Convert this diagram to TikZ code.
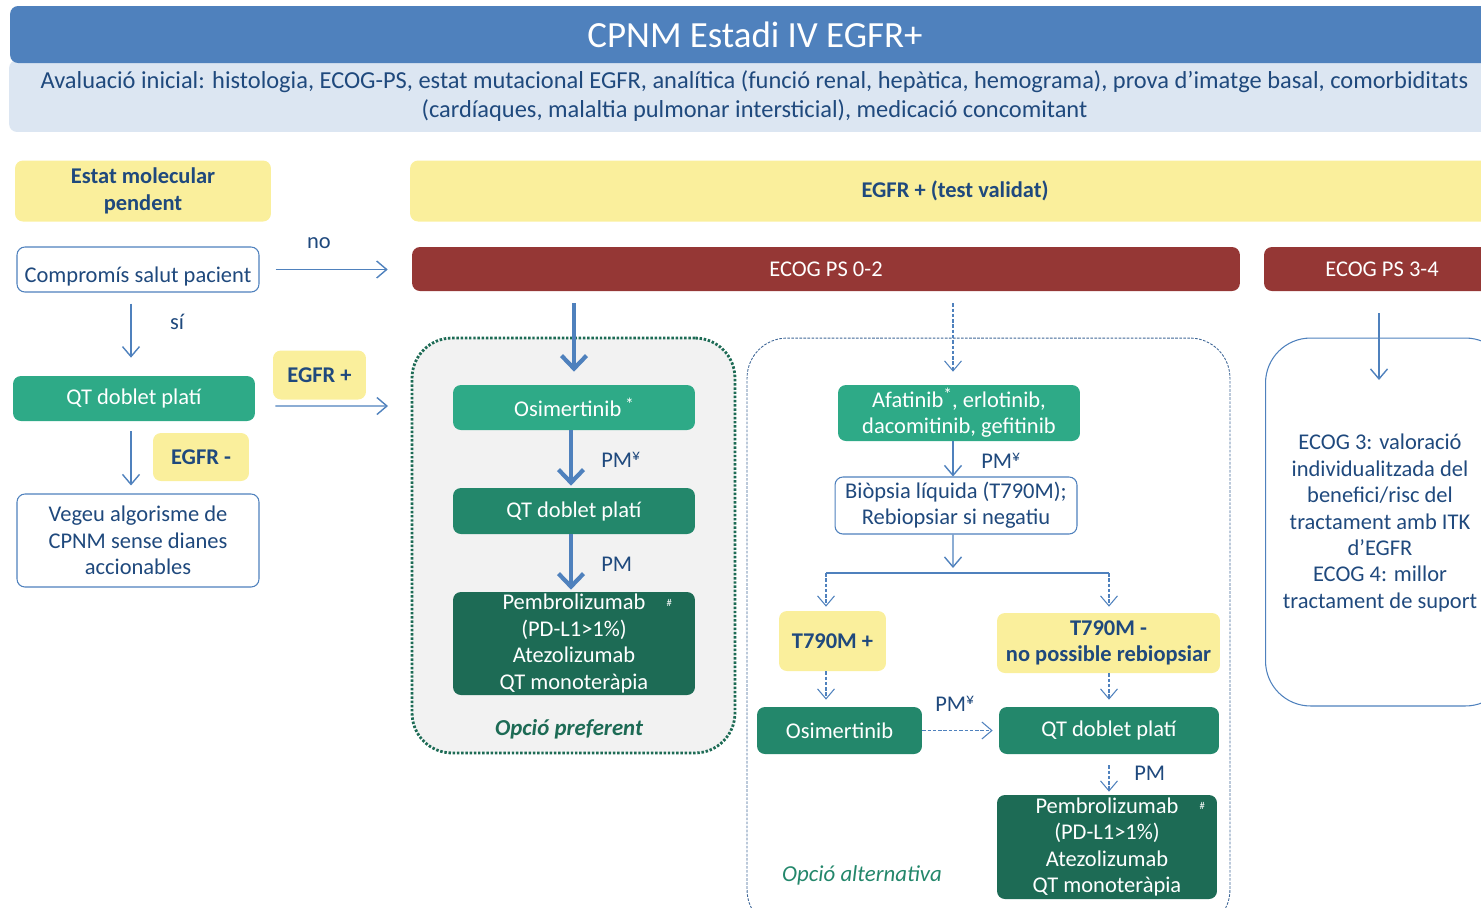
\documentclass[tikz,border=0pt]{standalone}
\usepackage{fontspec}
\setmainfont{Carlito}
\usepackage{xcolor}
\usetikzlibrary{arrows.meta}
\definecolor{titleblue}{HTML}{4F81BD}
\definecolor{headblue}{HTML}{DCE6F2}
\definecolor{textnavy}{HTML}{1F497D}
\definecolor{boxyellow}{HTML}{FAEF9C}
\definecolor{ecogred}{HTML}{953735}
\definecolor{greenA}{HTML}{2EAA87}
\definecolor{greenB}{HTML}{23876B}
\definecolor{greenC}{HTML}{1D6B55}
\definecolor{framegray}{HTML}{F2F2F2}
\newcommand{\supstar}{\raisebox{0.6ex}{\fontsize{10}{10}\selectfont*}}
\newcommand{\supyen}{\raisebox{0.6ex}{\fontsize{9}{9}\selectfont¥}}

\begin{document}
\begin{tikzpicture}[x=0.02cm,y=-0.02cm,font=\fontsize{12.8}{15}\selectfont,
  box/.style={rounded corners=4.5pt,align=center,inner sep=1pt,text=textnavy},
  ybox/.style={box,fill=boxyellow,font=\fontsize{12.8}{15}\selectfont\bfseries},
  wbox/.style={box,draw=titleblue,fill=white,line width=0.6pt},
  gbox/.style={box,fill=#1,text=white},
  gbox/.default=greenA,
  ecogbox/.style={box,fill=ecogred,text=white,minimum height=0.88cm},
  lbl/.style={text=textnavy,inner sep=0pt},
  arr/.style={draw=titleblue,line width=0.8pt,-{Straight Barb[length=2mm,width=3.4mm]}},
  darr/.style={arr,line width=0.6pt,dash pattern=on 2pt off 1pt},
  bigarr/.style={draw=titleblue,line width=2.4pt,-{Straight Barb[length=2.6mm,width=5mm]}}]
  \useasboundingbox (0,0) rectangle (1481,907);
  \clip (0,0) rectangle (1481,907);
  \node[box,fill=headblue,minimum width=29.82cm,minimum height=1.44cm,font=\fontsize{13.9}{17}\selectfont] (init) at (754.5,96)
    {Avaluació inicial: histologia, ECOG-PS, estat mutacional EGFR, analítica (funció renal, hepàtica, hemograma), prova d’imatge basal, comorbiditats\\(cardíaques, malaltia pulmonar intersticial), medicació concomitant};
  \node[box,fill=titleblue,text=white,minimum width=29.8cm,minimum height=1.14cm,font=\fontsize{21}{24}\selectfont] (title) at (755,34.5) {CPNM Estadi IV EGFR+};
  \node[ybox,minimum width=5.12cm,minimum height=1.22cm] (pending) at (143,191) {Estat molecular\\pendent};
  \node[ybox,minimum width=21.8cm,minimum height=1.22cm] (egfrtest) at (955,191) {EGFR + (test validat)};
  \node[wbox,minimum width=4.84cm,minimum height=0.9cm] (compromis) at (138,269.5) {\raisebox{-4pt}[\height][\depth]{Compromís salut pacient}};
  \node[gbox,minimum width=4.84cm,minimum height=0.9cm] (qt0) at (134,398.5) {QT doblet platí};
  \node[ybox,minimum width=1.86cm,minimum height=0.98cm] (egfrpos) at (319.5,375) {EGFR +};
  \node[ybox,minimum width=1.92cm,minimum height=0.96cm] (egfrneg) at (201,457) {EGFR -};
  \node[wbox,minimum width=4.84cm,minimum height=1.86cm] (vegeu) at (138,540.5) {Vegeu algorisme de\\CPNM sense dianes\\accionables};
  \node[lbl] (no) at (319,243) {no};
  \node[lbl] (si) at (177,322) {sí};
  \node[ecogbox,minimum width=16.56cm] (ecog02) at (826,269) {ECOG PS 0-2};
  \node[ecogbox,minimum width=4.72cm] (ecog34) at (1382,269) {ECOG PS 3-4};
  \node[draw=greenC,fill=framegray,line width=1.6pt,dash pattern=on 1.4pt off 1pt,rounded corners=0.8cm,minimum width=6.46cm,minimum height=8.3cm] (pref) at (573.5,545.5) {};
  \node[draw=titleblue!80!black,line width=0.5pt,dash pattern=on 1.5pt off 0.8pt,rounded corners=0.8cm,minimum width=9.66cm,minimum height=11.84cm] (alt) at (988.5,634) {};
  \node[draw=titleblue,line width=0.6pt,rounded corners=0.9cm,minimum width=4.9cm,minimum height=7.36cm] (supframe) at (1388,522) {};
  \node[gbox,minimum width=4.84cm,minimum height=0.9cm] (osi1) at (574,407.5) {Osimertinib\,\supstar};
  \node[gbox=greenB,minimum width=4.84cm,minimum height=0.92cm] (qt1) at (574,511) {QT doblet platí};
  \node[gbox=greenC,minimum width=4.84cm,minimum height=2.06cm,inner sep=0pt] (pem1) at (574,643.5)
    {Pembrolizumab\rlap{\hspace{12pt}\raisebox{2pt}{\fontsize{6}{6}\selectfont\#}}\\(PD-L1>1\%)\\Atezolizumab\\QT monoteràpia};
  \node[lbl,anchor=west] (pm1) at (601,460) {PM\supyen};
  \node[lbl,anchor=west] (pm2) at (601,564) {PM};
  \node[text=greenC,font=\fontsize{13}{15}\selectfont\bfseries\itshape] (preflabel) at (569,729) {Opció preferent};
  \node[gbox,minimum width=4.84cm,minimum height=1.12cm] (afa) at (959,413) {Afatinib\supstar, erlotinib,\\dacomitinib, gefitinib};
  \node[wbox,minimum width=4.84cm,minimum height=1.14cm] (bio) at (956,505.5) {Biòpsia líquida (T790M);\\Rebiopsiar si negatiu};
  \node[lbl,anchor=west] (pm3) at (981,461) {PM\supyen};
  \node[ybox,minimum width=2.14cm,minimum height=1.2cm] (t790pos) at (832.5,641) {T790M +};
  \node[ybox,minimum width=4.46cm,minimum height=1.2cm] (t790neg) at (1108.5,643) {T790M -\\no possible rebiopsiar};
  \node[gbox=greenB,minimum width=3.3cm,minimum height=0.94cm] (osi2) at (839.5,730.5) {Osimertinib};
  \node[gbox=greenB,minimum width=4.4cm,minimum height=0.94cm] (qt2) at (1109,730.5) {QT doblet platí};
  \node[gbox=greenC,minimum width=4.4cm,minimum height=2.08cm,inner sep=0pt] (pem2) at (1107,847)
    {Pembrolizumab\rlap{\hspace{12pt}\raisebox{2pt}{\fontsize{6}{6}\selectfont\#}}\\(PD-L1>1\%)\\Atezolizumab\\QT monoteràpia};
  \node[lbl,anchor=west] (pm4) at (935,704) {PM\supyen};
  \node[lbl,anchor=west] (pm5) at (1134,773) {PM};
  \node[text=greenB,font=\fontsize{13}{15}\selectfont\itshape] (altlabel) at (862,875) {Opció alternativa};
  \node[lbl,align=center] (suptext) at (1380,523) {ECOG 3: valoració\\individualitzada del\\benefici/risc del\\tractament amb ITK\\d’EGFR\\ECOG 4: millor\\tractament de suport};
  \coordinate (egfrin) at (388,406);
  \coordinate (split) at (953,573);
  \coordinate (splitL) at (826,573);
  \coordinate (splitR) at (1109,573);
  \coordinate (suptip) at (1379,380);
  \draw[arr,shorten <=0.32cm,shorten >=0.48cm] (compromis.east) -- (compromis.east -| ecog02.west);
  \draw[arr,shorten <=0.22cm,shorten >=0.36cm] ([xshift=-0.14cm]compromis.south) -- ([xshift=-0.14cm]compromis.south |- qt0.north);
  \draw[arr] ([shift={(20,7.5)}]qt0.east) -- (egfrin);
  \draw[arr,shorten <=0.2cm,shorten >=0.16cm] ([xshift=-0.06cm]qt0.south) -- ([xshift=-0.06cm]qt0.south |- vegeu.north);
  \draw[bigarr,shorten <=0.24cm,shorten >=0.26cm] (osi1.north |- ecog02.south) -- (osi1.north);
  \draw[bigarr,shorten >=0.04cm] ([xshift=-0.06cm]osi1.south) -- ([xshift=-0.06cm]qt1.north);
  \draw[bigarr,shorten >=0.04cm] ([xshift=-0.06cm]qt1.south) -- ([xshift=-0.06cm]pem1.north);
  \draw[darr,shorten <=0.24cm,shorten >=0.26cm] ([xshift=-0.12cm]afa.north |- ecog02.south) -- ([xshift=-0.12cm]afa.north);
  \draw[arr] ([xshift=-0.12cm]afa.south) -- ([xshift=-0.12cm]afa.south |- bio.north);
  \draw[arr,shorten >=0.1cm] ([xshift=-0.06cm]bio.south) -- (split);
  \draw[draw=titleblue,line width=0.8pt] (splitL) -- (splitR);
  \draw[darr,shorten >=0.08cm] (splitL) -- (splitL |- t790pos.north);
  \draw[darr,shorten >=0.12cm] (splitR) -- (splitR |- t790neg.north);
  \draw[darr,shorten >=0.14cm] (splitL |- t790pos.south) -- (splitL |- osi2.north);
  \draw[darr,shorten >=0.14cm] (splitR |- t790neg.south) -- (splitR |- qt2.north);
  \draw[darr,shorten >=0.12cm] (osi2.east) -- (osi2.east -| qt2.west);
  \draw[darr,shorten <=0.22cm,shorten >=0.06cm] (qt2.south) -- (qt2.south |- pem2.north);
  \draw[arr,shorten <=0.44cm] (ecog34.south -| suptip) -- (suptip);
\end{tikzpicture}
\end{document}
